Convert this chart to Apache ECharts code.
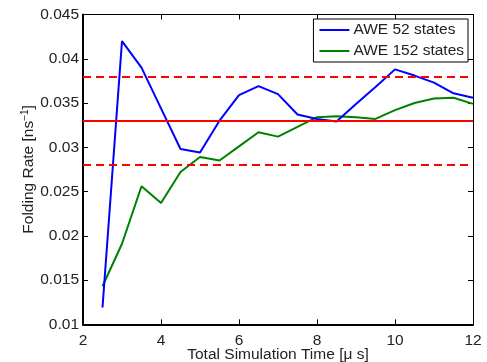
<!DOCTYPE html>
<html><head><meta charset="utf-8">
<script src="https://cdn.jsdelivr.net/npm/echarts@6/dist/echarts.min.js"></script>
<style>html,body{margin:0;padding:0;background:#fff}#c{width:487px;height:362px}</style>
</head><body><div id="c"></div>
<script>
var times = [2.5,3,3.5,4,4.5,5,5.5,6,6.5,7,7.5,8,8.5,9,9.5,10,10.5,11,11.5,12];
var awe52 = [0.0119,0.0420,0.0390,0.0344,0.0298,0.0294,0.0330,0.0359,0.0369,0.0360,0.0337,0.0332,0.0329,0.0349,0.0368,0.0388,0.0381,0.0373,0.0361,0.0356];
var awe152 = [0.0143,0.0191,0.0256,0.0237,0.0272,0.0289,0.0285,0.0301,0.0317,0.0312,0.0323,0.0334,0.0335,0.0334,0.0332,0.0342,0.0350,0.0355,0.0356,0.0349];
var refRate = 0.033;
var refBounds = [0.028, 0.038];
var seriesNames = ['AWE 52 states','AWE 152 states'];
var xTicks = [2,4,6,8,10,12];
var yTicks = [0.01,0.015,0.02,0.025,0.03,0.035,0.04,0.045];

function pairs(v){ return times.map(function(t,i){return [t, v[i]];}); }
var font = 'Liberation Sans, Arial, sans-serif';
var fs = 15.5;
var txt = '#222';
var chart = echarts.init(document.getElementById('c'));
chart.setOption({
  animation:false,
  backgroundColor:'#fff',
  grid:{left:83,right:14,top:14.5,bottom:37.7,containLabel:false,outerBoundsMode:'none'},
  legend:{
    data:seriesNames, orient:'vertical', right:19, top:19,
    icon:'rect', itemWidth:30, itemHeight:2, itemGap:5,
    borderColor:'#000', borderWidth:1, padding:[3,4,3,6],
    backgroundColor:'#fff',
    textStyle:{fontFamily:font,fontSize:fs,color:txt,padding:[0,0,0,-1]}
  },
  xAxis:[{
    type:'value', min:xTicks[0], max:xTicks[xTicks.length-1], interval:2,
    name:'Total Simulation Time [\u03bc s]', nameLocation:'middle', nameGap:22, nameMoveOverlap:false,
    nameTextStyle:{fontFamily:font,fontSize:fs,color:txt},
    axisLine:{show:true,onZero:false,lineStyle:{color:'#000',width:2}},
    axisTick:{show:true,inside:true,length:5,lineStyle:{color:'#000'}},
    axisLabel:{margin:8,fontFamily:font,fontSize:fs,color:txt},
    splitLine:{show:false}
  },{
    type:'value', position:'top', min:2, max:12, interval:2,
    axisLine:{show:true,onZero:false,lineStyle:{color:'#000',width:1}},
    axisTick:{show:true,inside:true,length:5,lineStyle:{color:'#000'}},
    axisLabel:{show:false}, splitLine:{show:false}
  }],
  yAxis:[{
    type:'value', min:yTicks[0], max:yTicks[yTicks.length-1], interval:0.005,
    name:'{n|Folding Rate [ns}{s|\u22121}{n|]}', nameLocation:'middle', nameGap:45, nameMoveOverlap:false,
    nameTextStyle:{fontFamily:font,fontSize:fs,color:txt,
      rich:{n:{fontFamily:font,fontSize:fs,color:txt},s:{fontFamily:font,fontSize:10,color:txt,verticalAlign:'top',padding:[0,0,8,0]}}},
    axisLine:{show:true,onZero:false,lineStyle:{color:'#000',width:2}},
    axisTick:{show:true,inside:true,length:5,lineStyle:{color:'#000'}},
    axisLabel:{margin:4,fontFamily:font,fontSize:fs,color:txt,
      formatter:function(v){return String(+v.toFixed(3));}},
    splitLine:{show:false}
  },{
    type:'value', position:'right', min:0.01, max:0.045, interval:0.005,
    axisLine:{show:true,onZero:false,lineStyle:{color:'#000',width:1}},
    axisTick:{show:true,inside:true,length:5,lineStyle:{color:'#000'}},
    axisLabel:{show:false}, splitLine:{show:false}
  }],
  series:[{
    name:seriesNames[0], type:'line', data:pairs(awe52), symbol:'none',
    lineStyle:{color:'#0000ff',width:2}, itemStyle:{color:'#0000ff'}, z:3
  },{
    name:seriesNames[1], type:'line', data:pairs(awe152), symbol:'none',
    lineStyle:{color:'#008000',width:2}, itemStyle:{color:'#008000'}, z:2,
    markLine:{
      silent:true, symbol:'none', label:{show:false}, precision:5,
      data:[
        {yAxis:refRate, lineStyle:{color:'#ff0000',width:2,type:'solid'}},
        {yAxis:refBounds[0], lineStyle:{color:'#ff0000',width:2,type:[8,5]}},
        {yAxis:refBounds[1], lineStyle:{color:'#ff0000',width:2,type:[8,5]}}
      ]
    }
  }]
});
</script></body></html>
